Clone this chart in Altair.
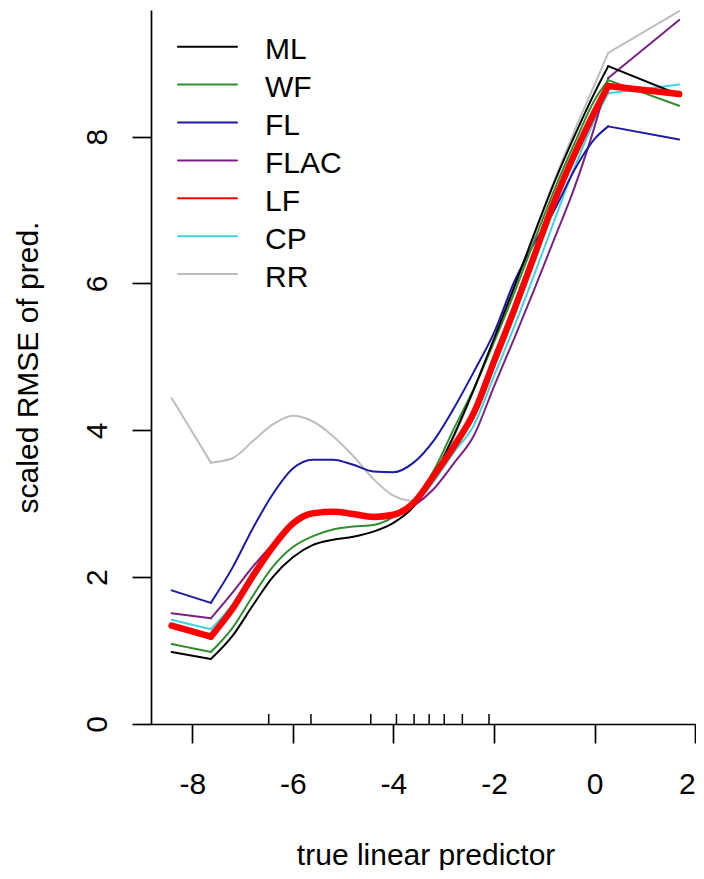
import altair as alt
import pandas as pd

# ---- data ----
x_grid = [-8.41, -7.63, -7.2, -6.8, -6.4, -6.0, -5.6, -5.2, -4.8, -4.4, -4.0,
          -3.6, -3.2, -2.8, -2.4, -2.0, -1.6, -1.2, -0.8, -0.4, 0.0, 0.27, 1.68]

ml   = [0.98, 0.885, 1.20, 1.61, 2.00, 2.27, 2.44, 2.51, 2.55, 2.62, 2.74,
        2.96, 3.38, 3.93, 4.56, 5.25, 5.95, 6.68, 7.38, 8.01, 8.60, 8.96, 8.57]
wf   = [1.09, 0.98, 1.31, 1.74, 2.14, 2.41, 2.56, 2.65, 2.69, 2.71, 2.82,
        3.05, 3.45, 4.02, 4.57, 5.20, 5.87, 6.58, 7.28, 7.91, 8.50, 8.77, 8.42]
fl   = [1.82, 1.65, 2.13, 2.66, 3.13, 3.48, 3.60, 3.60, 3.53, 3.44, 3.43,
        3.56, 3.86, 4.30, 4.80, 5.33, 6.02, 6.55, 7.00, 7.55, 7.97, 8.14, 7.96]
flac = [1.51, 1.44, 1.79, 2.14, 2.45, 2.72, 2.86, 2.88, 2.85, 2.81, 2.84,
        2.97, 3.20, 3.55, 3.93, 4.60, 5.25, 5.92, 6.61, 7.31, 8.14, 8.80, 9.59]
lf   = [1.34, 1.19, 1.57, 2.01, 2.41, 2.73, 2.87, 2.89, 2.86, 2.82, 2.85,
        3.01, 3.38, 3.78, 4.24, 4.94, 5.64, 6.38, 7.12, 7.76, 8.34, 8.69, 8.58]
cp   = [1.42, 1.29, 1.63, 2.06, 2.44, 2.74, 2.86, 2.87, 2.84, 2.80, 2.83,
        2.98, 3.30, 3.70, 4.07, 4.74, 5.41, 6.12, 6.86, 7.58, 8.23, 8.59, 8.71]
rr   = [4.44, 3.56, 3.62, 3.85, 4.08, 4.20, 4.12, 3.92, 3.65, 3.34, 3.11,
        3.04, 3.32, 3.90, 4.55, 5.22, 5.92, 6.65, 7.40, 8.08, 8.71, 9.14, 9.71]

rug_x = [-6.48, -5.64, -4.45, -3.94, -3.59, -3.29, -2.99, -2.63, -2.10]

names = ["ML", "WF", "FL", "FLAC", "LF", "CP", "RR"]
series = {"ML": ml, "WF": wf, "FL": fl, "FLAC": flac, "LF": lf, "CP": cp, "RR": rr}

x_ticks = [-8, -6, -4, -2, 0, 2]
y_ticks = [0, 2, 4, 6, 8]

# ---- styles ----
colors = {"ML": "#000000", "WF": "#2f8f2f", "FL": "#1a1aa6", "FLAC": "#7b2182",
          "LF": "#ff0000", "CP": "#3dd5e3", "RR": "#bebebe"}
widths = {"ML": 2, "WF": 2, "FL": 2, "FLAC": 2, "LF": 6.5, "CP": 2, "RR": 2}
draw_order = ["RR", "CP", "FLAC", "FL", "WF", "ML", "LF"]

FONT = "Liberation Sans"
W, H = 545, 714
x_scale = alt.Scale(domain=[-8.82, 2.015], nice=False, zero=False)
y_scale = alt.Scale(domain=[0, 9.725], nice=False, zero=False)

x_axis = alt.Axis(values=x_ticks, title="true linear predictor", grid=False,
                  labelExpr="'' + datum.value",
                  tickSize=19, tickWidth=1.7, tickColor="black",
                  domainColor="black", domainWidth=1.7,
                  labelFont=FONT, labelFontSize=30, labelColor="black",
                  labelBaseline="alphabetic", labelPadding=50, labelFlush=2,
                  labelOverlap=False,
                  titleFont=FONT, titleFontSize=30, titleFontWeight="normal",
                  titleColor="black", titleBaseline="alphabetic",
                  titleX=(594.6 - 151) - 169, titleY=140, titleAlign="center")
y_axis = alt.Axis(values=y_ticks, title="scaled RMSE of pred.", grid=False,
                  labelExpr="'' + datum.value",
                  tickSize=19, tickWidth=1.7, tickColor="black",
                  domainColor="black", domainWidth=1.7,
                  labelFont=FONT, labelFontSize=30, labelColor="black",
                  labelAngle=270, labelAlign="center", labelBaseline="alphabetic",
                  labelPadding=25.5, labelFlush=False, labelOverlap=False,
                  titleFont=FONT, titleFontSize=30, titleFontWeight="normal",
                  titleColor="black", titleAngle=270, titleAlign="center",
                  titleBaseline="alphabetic", titleX=-114, titleY=H / 2)

X_ENC = alt.X("x:Q", scale=x_scale, axis=x_axis)
Y_ENC = alt.Y("y:Q", scale=y_scale, axis=y_axis)

# the smooth part of each curve is drawn with monotone interpolation,
# the two straight end pieces with straight segments
x_lo, x_hi = x_grid[1], x_grid[-2]

layers = []
for nm in draw_order:
    df = pd.DataFrame({"x": x_grid, "y": series[nm]})
    mid = df[(df.x >= x_lo) & (df.x <= x_hi)]
    left = df[df.x <= x_lo]
    right = df[df.x >= x_hi]
    style = dict(color=colors[nm], strokeWidth=widths[nm],
                 strokeCap="round", strokeJoin="round")
    layers.append(alt.Chart(left).mark_line(**style).encode(x=X_ENC, y=Y_ENC))
    layers.append(alt.Chart(mid).mark_line(interpolate="monotone", **style).encode(x=X_ENC, y=Y_ENC))
    layers.append(alt.Chart(right).mark_line(**style).encode(x=X_ENC, y=Y_ENC))

rug_df = pd.DataFrame({"x": rug_x})
rug = alt.Chart(rug_df).mark_rule(color="black", strokeWidth=1.5).encode(
    x=X_ENC,
    y=alt.value(H), y2=alt.value(H - 10),
)
main = alt.layer(*layers, rug)

leg_df = pd.DataFrame({"series": names, "row": list(range(len(names)))})
row_scale = alt.Scale(domain=[0, 6], range=[36.7, 264.1])
leg_rules = alt.Chart(leg_df).mark_rule(strokeCap="round").encode(
    x=alt.value(27), x2=alt.value(86),
    y=alt.Y("row:Q", scale=row_scale, axis=None),
    color=alt.Color("series:N", scale=alt.Scale(domain=names, range=[colors[n] for n in names]), legend=None),
    strokeWidth=alt.StrokeWidth("series:O", sort=names,
                                scale=alt.Scale(domain=names, range=[widths[n] for n in names]),
                                legend=None),
)
leg_text = alt.Chart(leg_df).mark_text(align="left", baseline="alphabetic", dy=12.5,
                                       font=FONT, fontSize=30, color="black").encode(
    x=alt.value(114),
    y=alt.Y("row:Q", scale=row_scale, axis=None),
    text="series:N",
)
legend = alt.layer(leg_rules, leg_text)

chart = alt.layer(main, legend).resolve_scale(y="independent").properties(
    width=W, height=H,
    autosize=alt.AutoSizeParams(type="none"),
    padding={"left": 143, "top": 2, "right": 0, "bottom": 146},
    background="white",
).configure_view(stroke=None)

chart.save("out.html", embed_options={"renderer": "svg", "actions": False})
